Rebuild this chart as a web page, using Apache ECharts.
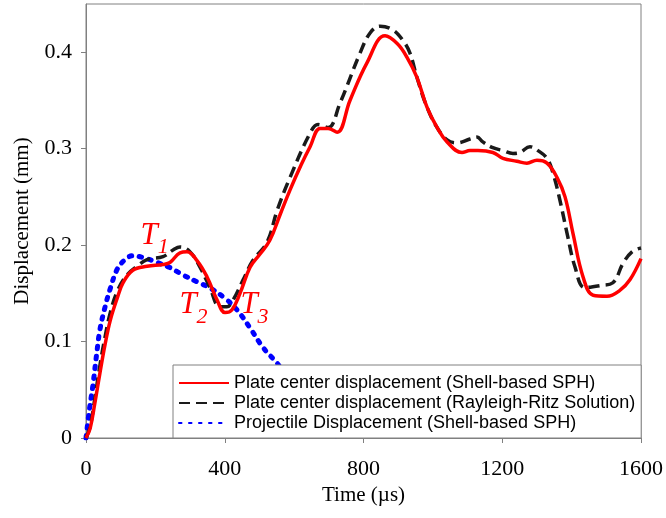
<!DOCTYPE html>
<html>
<head>
<meta charset="utf-8">
<script src="https://cdn.jsdelivr.net/npm/echarts@6/dist/echarts.min.js"></script>
<style>
    html, body { margin: 0; padding: 0; background: #fff; }
    #chart { width: 666px; height: 518px; }
</style>
</head>
<body>
<div id="chart"></div>
<script>
// time (µs) / displacement (mm)
const shellSph = [
    [0, 0], [12, 0.01], [25, 0.035], [40, 0.067], [55, 0.097], [70, 0.122],
    [90, 0.145], [107, 0.161], [135, 0.174], [176, 0.178], [222, 0.18],
    [242, 0.182], [271, 0.192], [291, 0.193], [320, 0.184], [349, 0.167],
    [378, 0.143], [401, 0.13], [421, 0.133], [444, 0.15], [473, 0.177],
    [500, 0.19], [530, 0.205], [560, 0.232], [588, 0.257], [620, 0.283],
    [646, 0.302], [675, 0.321], [698, 0.321], [724, 0.317], [761, 0.35],
    [810, 0.389], [862, 0.417], [897, 0.409], [925, 0.395], [954, 0.374],
    [983, 0.343], [1012, 0.322], [1041, 0.307], [1084, 0.296], [1107, 0.298],
    [1130, 0.298], [1173, 0.296], [1202, 0.29], [1242, 0.287], [1271, 0.285],
    [1300, 0.288], [1329, 0.285], [1358, 0.27], [1381, 0.25], [1404, 0.212],
    [1433, 0.167], [1462, 0.148], [1502, 0.147], [1539, 0.153], [1568, 0.164],
    [1600, 0.186]
];

const rayleighRitz = [
    [0, 0], [12, 0.012], [25, 0.04], [40, 0.075], [55, 0.105], [70, 0.13],
    [90, 0.152], [118, 0.169], [147, 0.178], [176, 0.185], [222, 0.188],
    [251, 0.195], [271, 0.198], [300, 0.193], [329, 0.177], [357, 0.156],
    [386, 0.136], [406, 0.136], [424, 0.143], [453, 0.164], [481, 0.184],
    [522, 0.203], [551, 0.236], [588, 0.27], [646, 0.316], [669, 0.325],
    [698, 0.322], [732, 0.347], [790, 0.399], [819, 0.42], [848, 0.427],
    [885, 0.423], [914, 0.412], [934, 0.399], [954, 0.374], [983, 0.343],
    [1012, 0.322], [1041, 0.309], [1069, 0.306], [1107, 0.31], [1127, 0.312],
    [1144, 0.307], [1173, 0.301], [1202, 0.298], [1231, 0.295], [1251, 0.296],
    [1280, 0.302], [1303, 0.298], [1329, 0.29], [1346, 0.275], [1366, 0.247],
    [1387, 0.212], [1410, 0.177], [1438, 0.156], [1482, 0.158], [1519, 0.161],
    [1548, 0.181], [1574, 0.193], [1600, 0.197]
];

const projectile = [
    [0, 0], [10, 0.03], [20, 0.055], [30, 0.085], [40, 0.112], [55, 0.136],
    [70, 0.155], [90, 0.175], [110, 0.184], [135, 0.189], [165, 0.187],
    [205, 0.182], [240, 0.177], [280, 0.169], [320, 0.162], [360, 0.155],
    [400, 0.145], [435, 0.133], [475, 0.113], [510, 0.094], [550, 0.078],
    [600, 0.055], [650, 0.033], [700, 0.012], [726, 0]
];

const seriesNames = [
    "Plate center displacement (Shell-based SPH)",
    "Plate center displacement (Rayleigh-Ritz Solution)",
    "Projectile Displacement (Shell-based SPH)"
];

// time marks T1..T3 (label, time, displacement)
const timeMarks = [
    ["1", 198, 0.206],
    ["2", 310, 0.134],
    ["3", 486, 0.134]
];

const serif = "Liberation Serif";

const chart = echarts.init(document.getElementById("chart"));

chart.setOption({
    animation: false,
    grid: {
        left: 86,
        right: 25,
        top: 4,
        bottom: 80,
        show: true,
        borderColor: "#808080",
        borderWidth: 1
    },
    legend: {
        orient: "vertical",
        left: 173,
        top: 365,
        padding: [9, 6, 6, 5],
        itemGap: 2,
        itemWidth: 50,
        itemHeight: 14,
        backgroundColor: "#fff",
        borderColor: "#808080",
        borderWidth: 1,
        borderRadius: 0,
        itemStyle: { color: "rgba(0,0,0,0)", borderWidth: 0 },
        textStyle: {
            fontFamily: "Liberation Sans",
            fontSize: 18,
            color: "#000"
        },
        data: seriesNames
    },
    xAxis: {
        type: "value",
        min: 0,
        max: 1600,
        interval: 400,
        name: "Time (\u00b5s)",
        nameLocation: "middle",
        nameGap: 46,
        nameTextStyle: { fontFamily: serif, fontSize: 21, color: "#000" },
        axisLine: { lineStyle: { color: "#808080" } },
        axisTick: { show: true, length: 5, lineStyle: { color: "#808080" } },
        axisLabel: {
            fontFamily: serif,
            fontSize: 22,
            color: "#000",
            margin: 20,
            formatter: v => String(v)
        },
        splitLine: { show: false }
    },
    yAxis: {
        type: "value",
        min: 0,
        max: 0.45,
        interval: 0.1,
        name: "Displacement (mm)",
        nameLocation: "middle",
        nameGap: 53,
        nameTextStyle: { fontFamily: serif, fontSize: 21, color: "#000" },
        axisLine: { show: true, lineStyle: { color: "#808080" } },
        axisTick: { show: true, length: 5, lineStyle: { color: "#808080" } },
        axisLabel: {
            fontFamily: serif,
            fontSize: 22,
            color: "#000",
            margin: 14,
            showMaxLabel: false,
            formatter: v => (v === 0 ? "0" : v.toFixed(1))
        },
        splitLine: { show: false }
    },
    series: [
        {
            name: seriesNames[0],
            type: "line",
            data: shellSph,
            smooth: 0.4,
            symbol: "none",
            z: 3,
            lineStyle: { color: "#ff0000", width: 3.5 },
            itemStyle: { color: "#ff0000" },
            markPoint: {
                symbol: "circle",
                symbolSize: 0,
                label: {
                    show: true,
                    formatter: p => "{t|T}{s|" + p.name + "}",
                    rich: {
                        t: {
                            fontFamily: serif,
                            fontStyle: "italic",
                            fontSize: 31,
                            color: "#ff0000",
                            lineHeight: 31,
                            width: 17,
                            verticalAlign: "top"
                        },
                        s: {
                            fontFamily: serif,
                            fontStyle: "italic",
                            fontSize: 22,
                            color: "#ff0000",
                            lineHeight: 38,
                            verticalAlign: "bottom"
                        }
                    }
                },
                data: timeMarks.map(m => ({ name: m[0], coord: [m[1], m[2]] }))
            }
        },
        {
            name: seriesNames[1],
            type: "line",
            data: rayleighRitz,
            smooth: 0.4,
            symbol: "none",
            z: 2,
            lineStyle: { color: "#1a1a1a", width: 3.5, type: [11, 6] },
            itemStyle: { color: "#1a1a1a" }
        },
        {
            name: seriesNames[2],
            type: "line",
            data: projectile,
            smooth: 0.4,
            symbol: "none",
            z: 1,
            lineStyle: { color: "#0000ff", width: 5, type: [2.5, 7.5], cap: "round" },
            itemStyle: { color: "#0000ff" }
        }
    ]
});
</script>
</body>
</html>
